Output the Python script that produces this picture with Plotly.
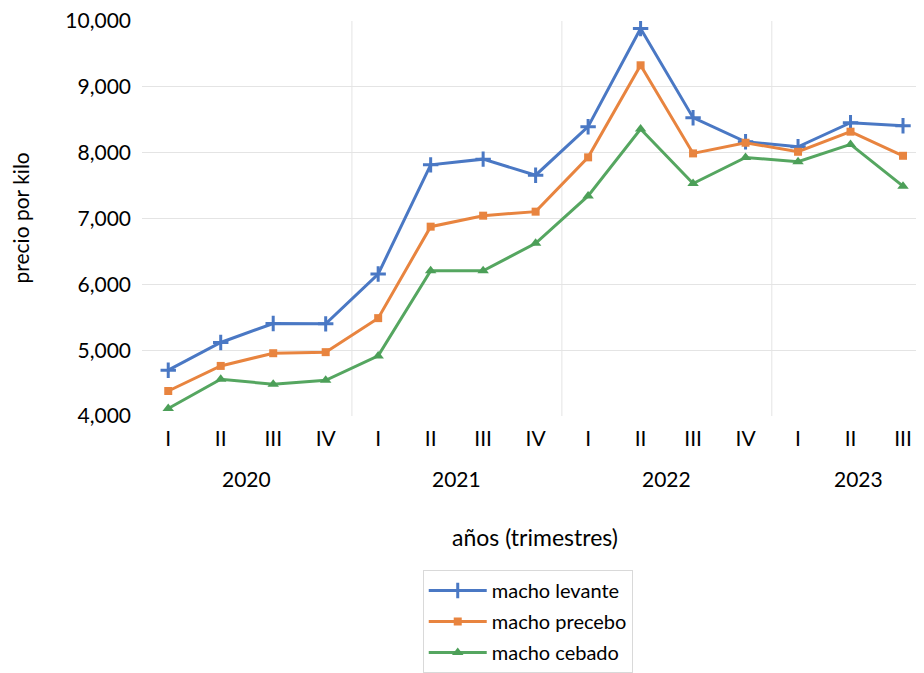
import plotly.graph_objects as go

quarters = ["I", "II", "III", "IV", "I", "II", "III", "IV", "I", "II", "III", "IV", "I", "II", "III"]
years = ["2020", "2021", "2022", "2023"]
year_centers = [1.5, 5.5, 9.5, 13.15]
year_bounds = [3.5, 7.5, 11.5]

macho_levante = [4696, 5117, 5406, 5400, 6157, 7816, 7903, 7659, 8396, 9887, 8533, 8167, 8091, 8457, 8411]
macho_precebo = [4380, 4761, 4954, 4970, 5487, 6877, 7044, 7105, 7930, 9329, 7990, 8152, 8015, 8320, 7954]
macho_cebado = [4113, 4559, 4482, 4543, 4913, 6207, 6207, 6624, 7344, 8360, 7533, 7929, 7863, 8127, 7492]

FONT = "Lato"
FS = 21
x = list(range(len(quarters)))

fig = go.Figure()
fig.add_trace(go.Scatter(
    x=x, y=macho_levante, name="macho levante", mode="lines+markers", legendgroup="a",
    line=dict(color="#4A78C4", width=3),
    marker=dict(symbol="cross-thin", size=11, line=dict(color="#4A78C4", width=3), color="#4A78C4"),
))
fig.add_trace(go.Scatter(
    x=x, y=macho_precebo, name="macho precebo", mode="lines+markers", legendgroup="b",
    line=dict(color="#E8843F", width=3),
    marker=dict(symbol="square", size=8, color="#E8843F"),
))
fig.add_trace(go.Scatter(
    x=x, y=macho_cebado, name="macho cebado", mode="lines+markers", legendgroup="c",
    line=dict(color="#55A660", width=3),
    marker=dict(symbol="triangle-up", size=10, color="#4C9F58"),
))

for b in year_bounds:
    fig.add_shape(type="line", xref="x", yref="y domain", x0=b, x1=b, y0=0, y1=1,
                  line=dict(color="#e4e4e4", width=1), layer="below")

for yr, c in zip(years, year_centers):
    fig.add_annotation(x=c, xref="x", y=0, yref="paper", yshift=-62, text=yr,
                       showarrow=False, yanchor="middle", font=dict(family=FONT, size=FS, color="#000"))

fig.add_annotation(x=0.502, xref="paper", y=0, yref="paper", yshift=-121, text="años (trimestres)",
                   showarrow=False, yanchor="middle", font=dict(family=FONT, size=23, color="#000"))

fig.add_annotation(x=0, xref="paper", xshift=-122, y=0.5, yref="paper", text="precio por kilo",
                   textangle=-90, showarrow=False, xanchor="center", yanchor="middle",
                   font=dict(family=FONT, size=21, color="#000"))

fig.update_layout(
    width=924, height=673,
    margin=dict(l=134, r=8, t=13, b=265, autoexpand=False),
    paper_bgcolor="white", plot_bgcolor="white",
    font=dict(family=FONT, size=FS, color="#000"),
    showlegend=True,
    legend=dict(x=0.359, y=-0.39, xanchor="left", yanchor="top", traceorder="grouped",
                tracegroupgap=2,
                bordercolor="#d9d9d9", borderwidth=1, font=dict(family=FONT, size=20, color="#000"),
                itemwidth=58),
    xaxis=dict(range=[-0.5, 14.4], tickmode="array", tickvals=x, ticktext=quarters,
               showgrid=False, zeroline=False, showline=False, ticks="", ticklabelstandoff=8,
               automargin=False, ticklabeloverflow="allow",
               tickfont=dict(family=FONT, size=FS, color="#000")),
    yaxis=dict(range=[4000, 10002], tickmode="array", tickvals=[4000, 5000, 6000, 7000, 8000, 9000, 10000],
               tickformat=",", showgrid=True, gridcolor="#e4e4e4",
               zeroline=False, showline=False, ticks="", ticklabelstandoff=10, automargin=False,
               ticklabeloverflow="allow",
               tickfont=dict(family=FONT, size=FS, color="#000")),
)

fig.write_html("out.html")
